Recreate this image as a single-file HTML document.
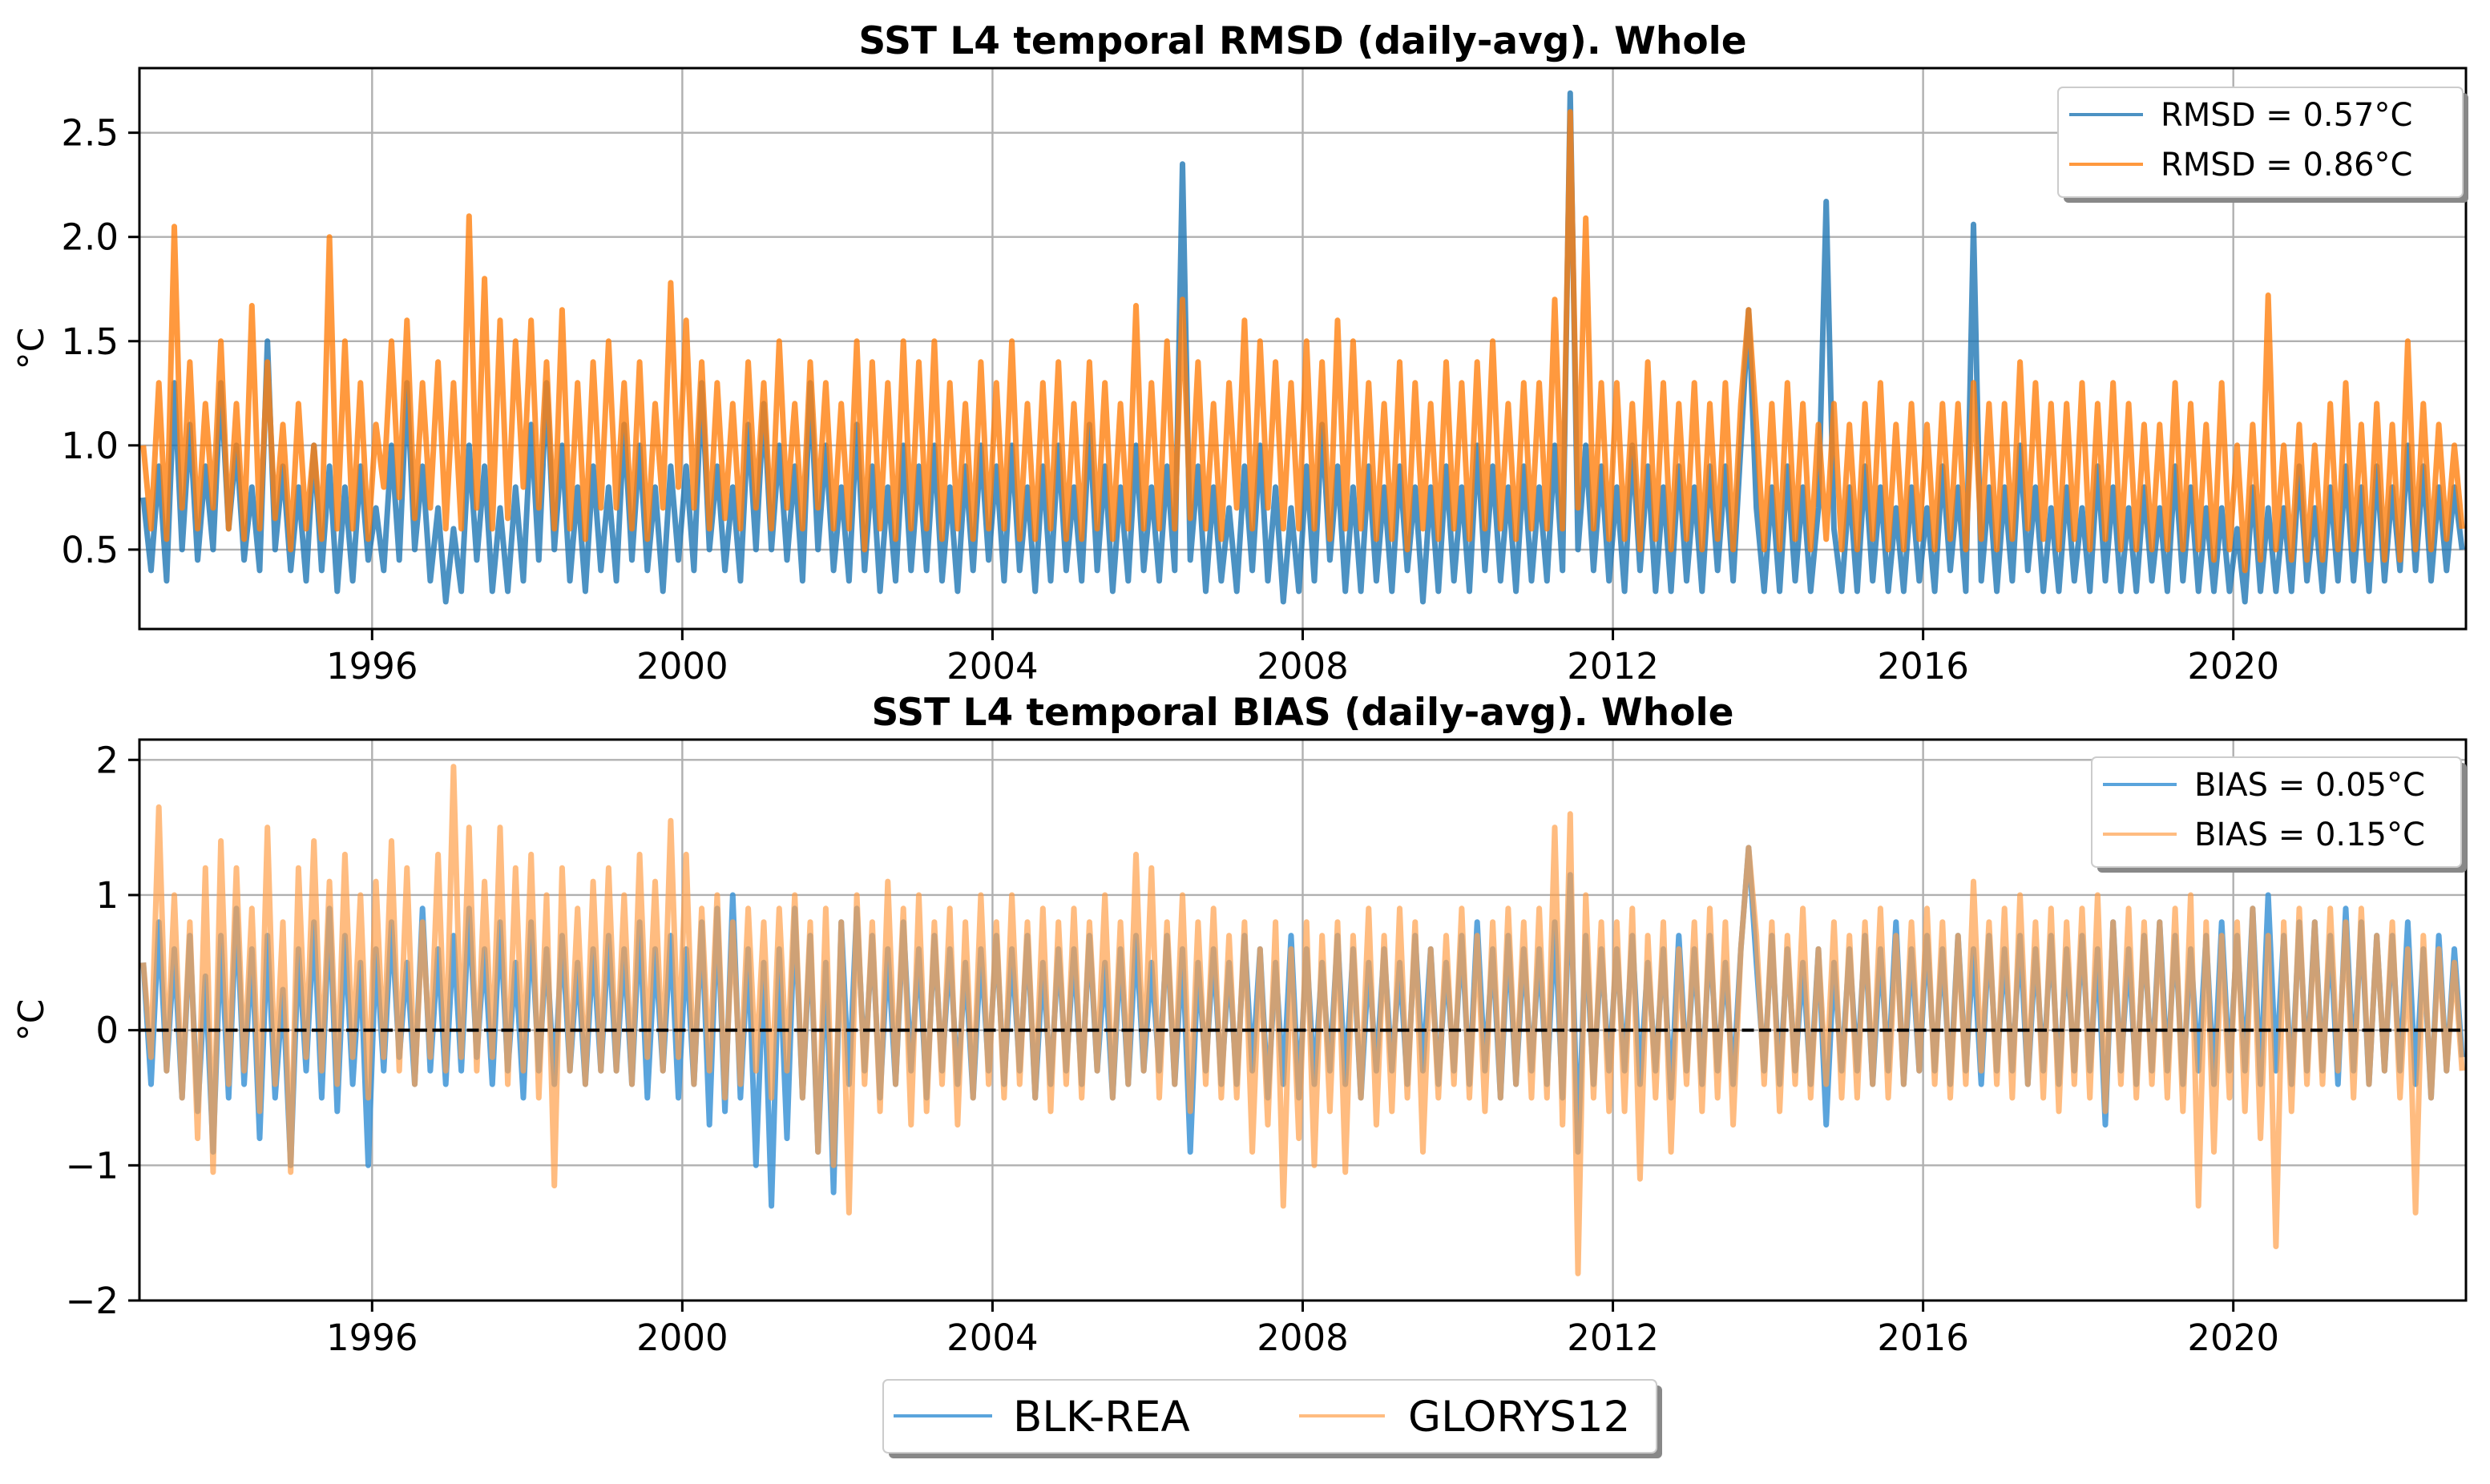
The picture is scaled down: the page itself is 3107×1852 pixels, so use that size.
<!DOCTYPE html>
<html><head><meta charset="utf-8"><style>
html,body{margin:0;padding:0;background:#fff}
svg{display:block;font-family:"DejaVu Sans","Liberation Sans",sans-serif}
</style></head><body>
<svg id="c" width="3107" height="1852" viewBox="0 0 3107 1852" xmlns="http://www.w3.org/2000/svg"></svg>
<script>
const startYear = 1993;
const stepsPerYear = 10;
const xTickYears = [1996, 2000, 2004, 2008, 2012, 2016, 2020];
const rmsdTicks = [0.5, 1.0, 1.5, 2.0, 2.5];
const rmsdTickLabels = ["0.5", "1.0", "1.5", "2.0", "2.5"];
const biasTicks = [-2, -1, 0, 1, 2];
const biasTickLabels = ["\u22122", "\u22121", "0", "1", "2"];
const rmsdBlk = [
0.75,0.4,0.9,0.35,1.3,0.5,1.1,0.45,0.9,0.5, 1.3,0.6,1.0,0.45,0.8,0.4,1.5,0.5,0.9,0.4,
0.8,0.35,1.0,0.4,0.9,0.3,0.8,0.35,0.9,0.45, 0.7,0.4,1.0,0.45,1.3,0.5,0.9,0.35,0.7,0.25,
0.6,0.3,1.0,0.45,0.9,0.3,0.7,0.3,0.8,0.35, 1.1,0.45,1.3,0.5,1.0,0.35,0.8,0.3,0.9,0.4,
0.8,0.35,1.1,0.45,1.0,0.4,0.8,0.3,0.9,0.45, 0.9,0.4,1.3,0.5,0.9,0.4,0.8,0.35,1.1,0.5,
1.2,0.5,1.0,0.45,0.9,0.35,1.3,0.5,1.0,0.4, 0.8,0.35,1.1,0.4,0.9,0.3,0.8,0.35,1.0,0.4,
0.9,0.4,1.0,0.35,0.8,0.3,0.9,0.4,1.0,0.45, 0.9,0.35,1.0,0.4,0.8,0.3,0.9,0.35,1.0,0.4,
0.8,0.35,1.1,0.4,0.9,0.3,0.8,0.35,1.0,0.4, 0.8,0.35,0.9,0.4,2.35,0.45,0.9,0.3,0.8,0.35,
0.7,0.3,0.9,0.4,1.0,0.35,0.8,0.25,0.7,0.3, 0.9,0.35,1.1,0.45,0.9,0.3,0.8,0.3,0.9,0.35,
0.8,0.3,0.9,0.4,0.8,0.25,0.8,0.3,0.9,0.35, 0.8,0.3,1.0,0.4,0.9,0.35,0.8,0.3,0.9,0.35,
0.8,0.35,1.0,0.4,2.69,0.5,1.0,0.4,0.9,0.35, 0.8,0.3,1.0,0.4,0.9,0.3,0.8,0.3,0.9,0.35,
0.8,0.3,0.9,0.4,0.9,0.35,1.0,1.65,0.7,0.3, 0.8,0.3,0.9,0.35,0.8,0.3,0.7,2.17,0.6,0.3,
0.8,0.3,0.9,0.35,0.8,0.3,0.7,0.3,0.8,0.35, 0.7,0.3,0.9,0.4,0.8,0.3,2.06,0.35,0.8,0.3,
0.8,0.35,1.0,0.4,0.8,0.3,0.7,0.3,0.8,0.35, 0.7,0.3,0.9,0.35,0.8,0.3,0.7,0.3,0.8,0.35,
0.7,0.3,0.9,0.35,0.8,0.3,0.7,0.3,0.7,0.3, 0.6,0.25,0.8,0.3,0.7,0.3,0.7,0.3,0.9,0.35,
0.7,0.3,0.8,0.35,0.9,0.35,0.8,0.3,0.9,0.35, 0.8,0.4,1.0,0.4,0.9,0.35,0.8,0.4,0.8,0.5];
const rmsdGlo = [
1.0,0.6,1.3,0.55,2.05,0.7,1.4,0.6,1.2,0.7, 1.5,0.6,1.2,0.55,1.67,0.6,1.4,0.65,1.1,0.5,
1.2,0.6,1.0,0.55,2.0,0.6,1.5,0.6,1.3,0.55, 1.1,0.8,1.5,0.75,1.6,0.65,1.3,0.7,1.4,0.6,
1.3,0.6,2.1,0.7,1.8,0.6,1.6,0.65,1.5,0.8, 1.6,0.7,1.4,0.6,1.65,0.6,1.3,0.55,1.4,0.7,
1.5,0.7,1.3,0.6,1.4,0.55,1.2,0.7,1.78,0.8, 1.6,0.7,1.4,0.6,1.3,0.65,1.2,0.6,1.4,0.7,
1.3,0.6,1.5,0.7,1.2,0.6,1.4,0.7,1.3,0.6, 1.2,0.6,1.5,0.5,1.4,0.6,1.3,0.55,1.5,0.6,
1.4,0.6,1.5,0.55,1.3,0.6,1.2,0.55,1.4,0.6, 1.3,0.6,1.5,0.55,1.2,0.55,1.3,0.6,1.4,0.55,
1.2,0.55,1.4,0.6,1.3,0.55,1.2,0.6,1.67,0.6, 1.3,0.6,1.5,0.6,1.7,0.65,1.4,0.6,1.2,0.55,
1.3,0.7,1.6,0.6,1.5,0.7,1.4,0.6,1.3,0.6, 1.5,0.6,1.4,0.55,1.6,0.6,1.5,0.6,1.3,0.55,
1.2,0.55,1.4,0.5,1.3,0.6,1.2,0.55,1.4,0.6, 1.3,0.55,1.4,0.6,1.5,0.6,1.2,0.55,1.3,0.6,
1.3,0.6,1.7,0.6,2.6,0.7,2.09,0.6,1.3,0.55, 1.3,0.55,1.2,0.5,1.4,0.55,1.3,0.5,1.2,0.55,
1.3,0.5,1.2,0.55,1.3,0.5,1.2,1.65,1.1,0.5, 1.2,0.5,1.3,0.55,1.2,0.5,1.1,0.55,1.2,0.5,
1.1,0.5,1.2,0.55,1.3,0.5,1.1,0.5,1.2,0.55, 1.1,0.5,1.2,0.55,1.2,0.5,1.3,0.55,1.2,0.5,
1.2,0.55,1.4,0.6,1.3,0.55,1.2,0.5,1.2,0.55, 1.3,0.5,1.2,0.55,1.3,0.5,1.2,0.5,1.1,0.5,
1.1,0.5,1.3,0.5,1.2,0.5,1.1,0.45,1.3,0.5, 1.0,0.4,1.1,0.45,1.72,0.5,1.0,0.45,1.1,0.45,
1.0,0.45,1.2,0.5,1.3,0.5,1.1,0.45,1.2,0.45, 1.1,0.45,1.5,0.5,1.2,0.5,1.1,0.55,1.0,0.6];
const biasBlk = [
0.5,-0.4,0.8,-0.3,0.6,-0.5,0.7,-0.6,0.4,-0.9, 0.7,-0.5,0.9,-0.4,0.6,-0.8,0.7,-0.5,0.3,-1.0,
0.6,-0.3,0.8,-0.5,0.9,-0.6,0.7,-0.4,0.5,-1.0, 0.6,-0.3,0.8,-0.2,0.5,-0.4,0.9,-0.3,0.6,-0.4,
0.7,-0.3,0.9,-0.2,0.6,-0.4,0.8,-0.3,0.5,-0.5, 0.8,-0.3,0.6,-0.4,0.7,-0.3,0.5,-0.4,0.6,-0.3,
0.7,-0.3,0.6,-0.4,0.8,-0.5,0.6,-0.3,0.7,-0.5, 0.6,-0.4,0.8,-0.7,0.9,-0.6,1.0,-0.5,0.6,-1.0,
0.5,-1.3,0.6,-0.8,0.9,-0.5,0.7,-0.9,0.5,-1.2, 0.8,-0.4,0.9,-0.3,0.7,-0.5,0.6,-0.4,0.8,-0.3,
0.6,-0.5,0.7,-0.3,0.6,-0.4,0.5,-0.5,0.6,-0.3, 0.7,-0.4,0.6,-0.3,0.7,-0.5,0.5,-0.4,0.6,-0.3,
0.6,-0.4,0.7,-0.3,0.5,-0.5,0.6,-0.4,0.7,-0.3, 0.5,-0.3,0.7,-0.4,0.6,-0.9,0.5,-0.3,0.6,-0.4,
0.5,-0.4,0.7,-0.3,0.6,-0.5,0.5,-0.4,0.7,-0.5, 0.6,-0.4,0.5,-0.3,0.7,-0.4,0.6,-0.5,0.5,-0.3,
0.6,-0.3,0.5,-0.4,0.7,-0.3,0.6,-0.4,0.5,-0.3, 0.7,-0.4,0.8,-0.3,0.6,-0.5,0.7,-0.4,0.6,-0.3,
0.6,-0.4,0.8,-0.5,1.15,-0.9,0.7,-0.4,0.6,-0.3, 0.6,-0.3,0.7,-0.4,0.5,-0.3,0.6,-0.5,0.7,-0.3,
0.6,-0.4,0.7,-0.3,0.5,-0.4,0.6,1.35,0.5,-0.3, 0.7,-0.4,0.6,-0.3,0.5,-0.4,0.6,-0.7,0.5,-0.3,
0.6,-0.3,0.7,-0.4,0.6,-0.3,0.8,-0.4,0.6,-0.3, 0.7,-0.3,0.6,-0.4,0.7,-0.3,0.6,-0.4,0.7,-0.3,
0.6,-0.3,0.7,-0.4,0.6,-0.3,0.7,-0.4,0.6,-0.3, 0.7,-0.3,0.6,-0.7,0.8,-0.3,0.6,-0.4,0.7,-0.3,
0.8,-0.3,0.7,-0.4,0.6,-0.3,0.7,-0.4,0.8,-0.3, 0.7,-0.3,0.9,-0.4,1.0,-0.3,0.7,-0.4,0.8,-0.3,
0.8,-0.3,0.7,-0.4,0.9,-0.3,0.8,-0.4,0.7,-0.3, 0.7,-0.3,0.8,-0.4,0.6,-0.5,0.7,-0.3,0.6,-0.2];
const biasGlo = [
0.5,-0.2,1.65,-0.3,1.0,-0.5,0.8,-0.8,1.2,-1.05, 1.4,-0.4,1.2,-0.3,0.9,-0.6,1.5,-0.4,0.8,-1.05,
1.2,-0.2,1.4,-0.3,1.1,-0.4,1.3,-0.2,1.0,-0.5, 1.1,-0.2,1.4,-0.3,1.2,-0.4,0.8,-0.2,1.3,-0.3,
1.95,-0.2,1.5,-0.3,1.1,-0.2,1.5,-0.4,1.2,-0.3, 1.3,-0.5,1.0,-1.15,1.2,-0.3,0.9,-0.4,1.1,-0.3,
1.2,-0.3,1.0,-0.4,1.3,-0.2,1.1,-0.3,1.55,-0.2, 1.3,-0.4,0.9,-0.3,1.0,-0.5,0.8,-0.4,0.9,-0.3,
0.8,-0.5,0.9,-0.3,1.0,-0.5,0.8,-0.9,0.9,-1.0, 0.8,-1.35,1.0,-0.4,0.8,-0.6,1.1,-0.4,0.9,-0.7,
1.0,-0.6,0.8,-0.4,0.9,-0.7,0.8,-0.5,1.0,-0.4, 0.8,-0.5,1.0,-0.4,0.8,-0.5,0.9,-0.6,0.8,-0.4,
0.9,-0.5,0.8,-0.3,1.0,-0.5,0.8,-0.4,1.3,-0.3, 1.2,-0.5,0.8,-0.4,1.0,-0.6,0.8,-0.4,0.9,-0.5,
0.7,-0.5,0.8,-0.9,0.6,-0.7,0.8,-1.3,0.6,-0.8, 0.8,-1.0,0.7,-0.6,0.8,-1.05,0.7,-0.5,0.9,-0.7,
0.7,-0.6,0.9,-0.5,0.8,-0.9,0.6,-0.5,0.7,-0.4, 0.9,-0.5,0.7,-0.6,0.8,-0.5,0.9,-0.4,0.8,-0.5,
0.9,-0.5,1.5,-0.7,1.6,-1.8,1.0,-0.5,0.8,-0.6, 0.8,-0.6,0.9,-1.1,0.7,-0.5,0.8,-0.9,0.6,-0.4,
0.8,-0.6,0.9,-0.5,0.8,-0.7,0.6,1.35,0.7,-0.4, 0.8,-0.6,0.7,-0.4,0.9,-0.5,0.6,-0.4,0.8,-0.5,
0.7,-0.5,0.8,-0.4,0.9,-0.5,0.7,-0.4,0.8,-0.3, 0.9,-0.4,0.8,-0.5,0.7,-0.4,1.1,-0.3,0.8,-0.4,
0.9,-0.5,1.0,-0.4,0.8,-0.5,0.9,-0.6,0.8,-0.4, 0.9,-0.5,1.0,-0.6,0.8,-0.4,0.9,-0.5,0.8,-0.4,
0.8,-0.5,0.9,-0.6,1.0,-1.3,0.8,-0.9,0.7,-0.5, 0.8,-0.6,0.9,-0.8,0.7,-1.6,0.8,-0.6,0.9,-0.4,
0.8,-0.4,0.9,-0.3,0.8,-0.5,0.9,-0.4,0.7,-0.3, 0.8,-0.5,0.6,-1.35,0.7,-0.5,0.6,-0.3,0.5,-0.3];

const NS = "http://www.w3.org/2000/svg";
const svg = document.getElementById("c");
function mk(tag, attrs, parent, text) {
  const e = document.createElementNS(NS, tag);
  for (const k in attrs) e.setAttribute(k, attrs[k]);
  if (text !== undefined) e.textContent = text;
  (parent || svg).appendChild(e);
  return e;
}
const L = 174, R = 3077;
const xMin = 1993.0, xMax = 2023.0;
function xs(v) { return L + (v - xMin) / (xMax - xMin) * (R - L); }

function panel(cfg) {
  const g = mk("g", {});
  
  
  const ys = v => cfg.top + (cfg.yMax - v) / (cfg.yMax - cfg.yMin) * (cfg.bottom - cfg.top);
  const clipId = cfg.name + "-clip";
  const cp = mk("clipPath", { id: clipId }, g);
  mk("rect", { x: L, y: cfg.top, width: R - L, height: cfg.bottom - cfg.top }, cp);
  xTickYears.forEach(yr => {
    const x = xs(yr);
    const gl = mk("line", { x1: x, x2: x, y1: cfg.top, y2: cfg.bottom, stroke: "#b0b0b0", "stroke-width": 2.4 }, g);
    
    
  });
  cfg.yTicks.forEach(v => {
    const y = ys(v);
    const gl = mk("line", { x1: L, x2: R, y1: y, y2: y, stroke: "#b0b0b0", "stroke-width": 2.4 }, g);
    
    
  });
  const sg = mk("g", { "clip-path": "url(#" + clipId + ")" }, g);
  cfg.series.forEach(s => {
    let d = "";
    s.data.forEach((v, i) => {
      const x = xs(startYear + (i + 0.5) / stepsPerYear);
      d += (i ? "L" : "M") + x.toFixed(1) + "," + ys(v).toFixed(1);
    });
    const p = mk("path", { d: d, fill: "none", stroke: s.color, "stroke-opacity": s.alpha, "stroke-width": 7, "stroke-linejoin": "round" }, sg);
    
    
  });
  if (cfg.zeroLine) {
    const z = mk("line", { x1: L, x2: R, y1: ys(0), y2: ys(0), stroke: "#000", "stroke-width": 4, "stroke-dasharray": "15,6.5" }, g);
    
    
  }
  const fr = mk("rect", { x: L, y: cfg.top, width: R - L, height: cfg.bottom - cfg.top, fill: "none", stroke: "#000", "stroke-width": 3 }, g);
  
  
  xTickYears.forEach(yr => {
    const x = xs(yr);
    mk("line", { x1: x, x2: x, y1: cfg.bottom, y2: cfg.bottom + 14, stroke: "#000", "stroke-width": 3 }, g);
    const t = mk("text", { x: x, y: cfg.bottom + 62, "text-anchor": "middle", "font-size": 45 }, g, String(yr));
    
    
  });
  cfg.yTicks.forEach((v, i) => {
    const y = ys(v);
    mk("line", { x1: L - 14, x2: L, y1: y, y2: y, stroke: "#000", "stroke-width": 3 }, g);
    const t = mk("text", { x: L - 26, y: y + 16, "text-anchor": "end", "font-size": 45 }, g, cfg.yTickLabels[i]);
    
    
  });
  const yl = mk("text", { x: 0, y: 0, transform: "translate(54," + ((cfg.top + cfg.bottom) / 2) + ") rotate(-90)", "text-anchor": "middle", "font-size": 44 }, g, "°C");
  
  
  const tt = mk("text", { x: (L + R) / 2, y: cfg.top - 18, "text-anchor": "middle", "font-size": 47, "font-weight": "bold" }, g, cfg.title);
  
  
  const lg = mk("g", {}, g);
  
  
  const lx = cfg.legend.x, ly = cfg.legend.y, lw = cfg.legend.w, lh = cfg.legend.h;
  mk("rect", { x: lx + 7, y: ly + 7, width: lw, height: lh, rx: 6, fill: "#888" }, lg);
  mk("rect", { x: lx, y: ly, width: lw, height: lh, rx: 6, fill: "#fff", stroke: "#ccc", "stroke-width": 2 }, lg);
  cfg.series.forEach((s, i) => {
    const ey = ly + 34 + i * 62;
    const en = mk("g", {}, lg);
    
    
    mk("line", { x1: lx + 14, x2: lx + 106, y1: ey, y2: ey, stroke: s.color, "stroke-opacity": s.alpha, "stroke-width": 4 }, en);
    mk("text", { x: lx + 128, y: ey + 14, "font-size": 40 }, en, s.label);
  });
}

panel({
  name: "rmsd-panel", top: 85, bottom: 785, yMin: 0.119, yMax: 2.81,
  yTicks: rmsdTicks, yTickLabels: rmsdTickLabels,
  title: "SST L4 temporal RMSD (daily-avg). Whole",
  legend: { x: 2568, y: 109, w: 505, h: 137 },
  series: [
    { name: "rmsd-blk-rea-line", data: rmsdBlk, color: "#1f77b4", alpha: 0.8, label: "RMSD  = 0.57°C" },
    { name: "rmsd-glorys12-line", data: rmsdGlo, color: "#ff7f0e", alpha: 0.8, label: "RMSD  = 0.86°C" }
  ]
});
panel({
  name: "bias-panel", top: 923, bottom: 1623, yMin: -2.0, yMax: 2.15, zeroLine: true,
  yTicks: biasTicks, yTickLabels: biasTickLabels,
  title: "SST L4 temporal BIAS (daily-avg). Whole",
  legend: { x: 2610, y: 945, w: 461, h: 137 },
  series: [
    { name: "bias-blk-rea-line", data: biasBlk, color: "#3d94d6", alpha: 0.85, label: "BIAS = 0.05°C" },
    { name: "bias-glorys12-line", data: biasGlo, color: "#ff9f4a", alpha: 0.7, label: "BIAS = 0.15°C" }
  ]
});

const fl = mk("g", {});


mk("rect", { x: 1109, y: 1729, width: 965, height: 91, rx: 6, fill: "#888" }, fl);
mk("rect", { x: 1102, y: 1722, width: 965, height: 91, rx: 6, fill: "#fff", stroke: "#ccc", "stroke-width": 2 }, fl);
const e1 = mk("g", {}, fl);


mk("line", { x1: 1115, x2: 1238, y1: 1767, y2: 1767, stroke: "#3d94d6", "stroke-opacity": 0.85, "stroke-width": 4 }, e1);
mk("text", { x: 1264, y: 1786, "font-size": 53 }, e1, "BLK-REA");
const e2 = mk("g", {}, fl);


mk("line", { x1: 1621, x2: 1728, y1: 1767, y2: 1767, stroke: "#ff9f4a", "stroke-opacity": 0.7, "stroke-width": 4 }, e2);
mk("text", { x: 1757, y: 1786, "font-size": 53 }, e2, "GLORYS12");
</script>
</body></html>
